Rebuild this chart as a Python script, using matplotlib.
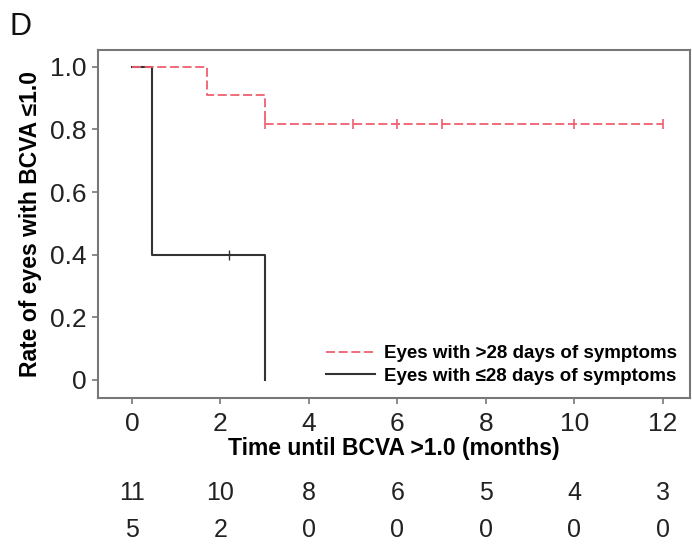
import matplotlib.pyplot as plt
import numpy as np

# Datos (Kaplan-Meier)
red_t = [0, 1.7, 3.0, 12]
red_s = [1.0, 0.909, 0.818, 0.818]
red_cens_t = [3.0, 5, 6, 7, 10, 12]
red_cens_s = [0.818, 0.818, 0.818, 0.818, 0.818, 0.818]

black_t = [0, 0.45, 3.0]
black_s = [1.0, 0.4, 0.0]
black_cens_t = [2.2]
black_cens_s = [0.4]

risk_x = [0, 2, 4, 6, 8, 10, 12]
risk_red = [11, 10, 8, 6, 5, 4, 3]
risk_black = [5, 2, 0, 0, 0, 0, 0]

plt.rcParams['font.family'] = ['Liberation Sans', 'DejaVu Sans']

fig = plt.figure(figsize=(6.92, 5.45), dpi=100)
ax = fig.add_axes([98/692, 1-398/545, (690-98)/692, (398-50)/545])

red = '#f0606e'
dark = '#333333'

ax.step(red_t, red_s, where='post', color=red, ls=(0, (5, 2)), lw=1.3, zorder=4,
        label='Eyes with >28 days of symptoms')
ax.plot(red_cens_t, red_cens_s, ls='none', marker='|', ms=7, mew=1.2, color=red, zorder=4)
ax.step(black_t, black_s, where='post', color=dark, lw=1.5, zorder=3,
        label='Eyes with \u226428 days of symptoms')
ax.plot(black_cens_t, black_cens_s, ls='none', marker='|', ms=7, mew=1.0, color=dark)

ax.set_xlim(-0.77, 12.62)
ax.set_ylim(-0.058, 1.054)
ax.set_xticks([0, 2, 4, 6, 8, 10, 12])
ax.set_yticks([0, 0.2, 0.4, 0.6, 0.8, 1.0])
ax.set_yticklabels(['0', '0.2', '0.4', '0.6', '0.8', '1.0'])
ax.tick_params(labelsize=19, colors='#777777', labelcolor='#222222', length=4, width=1.2)
ax.tick_params(axis='x', pad=6)
ax.tick_params(axis='y', pad=4)
for s in ax.spines.values():
    s.set_color('#777777')
    s.set_linewidth(1.5)

ax.set_xlabel('Time until BCVA >1.0 (months)', fontsize=16.5, fontweight='bold', labelpad=1)
ax.set_ylabel('Rate of eyes with BCVA \u22641.0', fontsize=16.5, fontweight='bold', labelpad=6)

leg = ax.legend(loc='lower right', frameon=False, fontsize=13.5, handlelength=2.6,
                borderaxespad=0.3, labelspacing=0.3, handletextpad=0.5)
for t in leg.get_texts():
    t.set_fontweight('bold')

# Numero en riesgo
trans = ax.get_xaxis_transform()
for x, a, b in zip(risk_x, risk_red, risk_black):
    ax.text(x, -(493-398)/348, str(a), transform=trans, ha='center', va='center',
            fontsize=18, color='#222222')
    ax.text(x, -(530-398)/348, str(b), transform=trans, ha='center', va='center',
            fontsize=18, color='#222222')

fig.text(10/692, 1-27/545, 'D', fontsize=22, va='center', ha='left', color='#111111')

fig.savefig('out.png', dpi=100)
